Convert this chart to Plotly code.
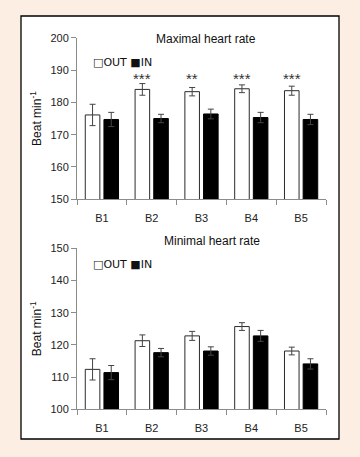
import plotly.graph_objects as go

categories = ["B1", "B2", "B3", "B4", "B5"]

max_out = [176.1, 184.0, 183.3, 184.2, 183.6]
max_out_err = [3.3, 1.8, 1.3, 1.2, 1.4]
max_in = [174.7, 175.0, 176.4, 175.3, 174.7]
max_in_err = [2.2, 1.3, 1.5, 1.6, 1.6]
max_stars = ["", "***", "**", "***", "***"]
max_star_y = 187.4

min_out = [112.4, 121.3, 122.8, 125.7, 118.1]
min_out_err = [3.3, 1.8, 1.4, 1.2, 1.2]
min_in = [111.4, 117.6, 118.1, 122.8, 114.1]
min_in_err = [2.2, 1.3, 1.3, 1.7, 1.6]

W, H = 360, 457
FONT = "Liberation Sans, Arial, sans-serif"
AX = "#8c8c8c"

def px_x(v):
    return v / W

def px_y(v):
    return 1 - v / H

fig = go.Figure()

def add_pair(out_vals, out_err, in_vals, in_err, xa, ya):
    fig.add_trace(go.Bar(
        x=categories, y=out_vals, name="OUT", xaxis=xa, yaxis=ya,
        marker=dict(color="white", line=dict(color="#2b2b2b", width=1)),
        error_y=dict(type="data", array=out_err, color="#444444", thickness=1, width=3),
        showlegend=False,
    ))
    fig.add_trace(go.Bar(
        x=categories, y=in_vals, name="IN", xaxis=xa, yaxis=ya,
        marker=dict(color="black", line=dict(color="black", width=1)),
        error_y=dict(type="data", array=in_err, color="#444444", thickness=1, width=3),
        showlegend=False,
    ))

add_pair(max_out, max_out_err, max_in, max_in_err, "x", "y")
add_pair(min_out, min_out_err, min_in, min_in_err, "x2", "y2")

xdom = [px_x(77), px_x(326)]
common_x = dict(
    type="category", range=[-0.5, 4.5], showline=True, linecolor=AX, linewidth=1,
    ticks="outside", tickson="boundaries", ticklen=5, tickcolor=AX,
    showgrid=False, zeroline=False, tickfont=dict(family=FONT, size=11, color="#222"),
    ticklabelstandoff=8, fixedrange=True, automargin=False,
)
common_y = dict(
    showline=True, linecolor=AX, linewidth=1, ticks="outside", ticklen=5, tickcolor=AX,
    showgrid=False, zeroline=False, dtick=10, tickfont=dict(family=FONT, size=11, color="#222"),
    title=dict(text="Beat min<sup>-1</sup>", font=dict(family=FONT, size=12, color="#111"), standoff=6),
    fixedrange=True, automargin=False,
)

fig.update_layout(
    width=W, height=H,
    margin=dict(l=0, r=0, t=0, b=0, autoexpand=False),
    paper_bgcolor="#fdeee3",
    plot_bgcolor="rgba(0,0,0,0)",
    barmode="group", bargap=0.25, bargroupgap=0.22,
    showlegend=False,
    xaxis=dict(domain=xdom, anchor="y", **common_x),
    yaxis=dict(domain=[px_y(199.3), px_y(37.7)], range=[150, 200], anchor="x", **common_y),
    xaxis2=dict(domain=xdom, anchor="y2", **common_x),
    yaxis2=dict(domain=[px_y(409.3), px_y(248.3)], range=[100, 150], anchor="x2", **common_y),
    font=dict(family=FONT),
)

fig.add_shape(type="rect", xref="paper", yref="paper",
              x0=px_x(21), x1=px_x(339), y0=px_y(439), y1=px_y(16),
              fillcolor="white", line=dict(color="black", width=1.3), layer="below")

# titles
fig.add_annotation(text="Maximal heart rate", xref="paper", yref="paper",
                   x=px_x(206), y=px_y(30), showarrow=False,
                   font=dict(family=FONT, size=12, color="#111"))
fig.add_annotation(text="Minimal heart rate", xref="paper", yref="paper",
                   x=px_x(212), y=px_y(241), showarrow=False,
                   font=dict(family=FONT, size=12, color="#111"))

# legends
LEG = "□OUT ■IN"
for yy in (54, 264):
    fig.add_annotation(text=LEG, xref="paper", yref="paper",
                       x=px_x(91), y=px_y(yy), xanchor="left", showarrow=False,
                       font=dict(family="DejaVu Sans, sans-serif", size=11, color="#111"))

# significance stars
for i, s in enumerate(max_stars):
    if s:
        fig.add_annotation(text=s, x=i - 0.19, y=max_star_y, xref="x", yref="y",
                           showarrow=False, font=dict(family=FONT, size=15, color="#333"))

fig.write_html("out.html", config={"displayModeBar": False},
               post_script="document.body.style.margin='0';")
